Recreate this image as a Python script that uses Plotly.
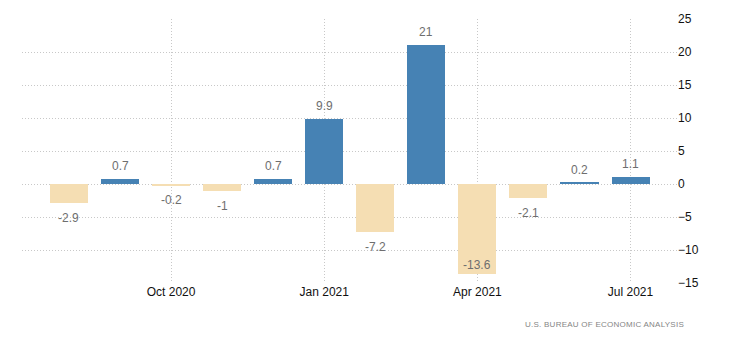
import plotly.graph_objects as go

months = ["Aug 2020", "Sep 2020", "Oct 2020", "Nov 2020", "Dec 2020", "Jan 2021",
          "Feb 2021", "Mar 2021", "Apr 2021", "May 2021", "Jun 2021", "Jul 2021"]
values = [-2.9, 0.7, -0.2, -1, 0.7, 9.9, -7.2, 21, -13.6, -2.1, 0.2, 1.1]
value_labels = ["-2.9", "0.7", "-0.2", "-1", "0.7", "9.9", "-7.2", "21", "-13.6", "-2.1", "0.2", "1.1"]
x_ticks = ["Oct 2020", "Jan 2021", "Apr 2021", "Jul 2021"]
y_ticks = [-15, -10, -5, 0, 5, 10, 15, 20, 25]
source = "U.S. BUREAU OF ECONOMIC ANALYSIS"

POS = "#4682B4"
NEG = "#F5DEB3"
FONT = "Liberation Sans, Arial, sans-serif"
LABEL_COLOR = "#6e6e6e"
Y_MIN, Y_MAX = -15, 25
GRID_DASH = "1px,2px"

colors = [POS if v >= 0 else NEG for v in values]

fig = go.Figure()
fig.add_trace(go.Bar(
    x=months, y=values, marker=dict(color=colors, line=dict(width=0)),
    width=0.745, hoverinfo="x+y",
))

annotations = []
for m, v, t in zip(months, values, value_labels):
    if v >= 0:
        annotations.append(dict(x=m, y=v, text=t, yanchor="bottom", yshift=4, showarrow=False))
    elif v - 2.5 < Y_MIN:  # no room below the bar: place inside at its end
        annotations.append(dict(x=m, y=v, text=t, yanchor="bottom", yshift=0, showarrow=False))
    else:
        annotations.append(dict(x=m, y=v, text=t, yanchor="top", yshift=-6, showarrow=False))
for a in annotations:
    a["font"] = dict(family=FONT, size=12, color=LABEL_COLOR)
    a["xanchor"] = "center"

annotations.append(dict(
    xref="paper", yref="paper", x=1.014, y=-0.159, xanchor="right", yanchor="middle",
    text='<span style="letter-spacing:0.25px">' + source + '</span>',
    showarrow=False, font=dict(family=FONT, size=8, color="#858585"),
))

fig.update_layout(
    width=730, height=340,
    margin=dict(l=22, r=53, t=19, b=57),
    paper_bgcolor="white", plot_bgcolor="white",
    showlegend=False, bargap=0,
    font=dict(family=FONT, size=12, color="#222"),
    annotations=annotations,
    xaxis=dict(
        type="category", categoryorder="array", categoryarray=months,
        range=[-0.92, 11.91], tickmode="array", tickvals=x_ticks, ticktext=x_ticks,
        showgrid=True, gridcolor="#c8c8c8", griddash=GRID_DASH, gridwidth=1,
        showline=False, ticks="", zeroline=False,
        tickfont=dict(family=FONT, size=12, color="#111"),
    ),
    yaxis=dict(
        side="right", range=[Y_MIN, Y_MAX], tickmode="array", tickvals=y_ticks,
        showgrid=True, gridcolor="#c8c8c8", griddash=GRID_DASH, gridwidth=1,
        zeroline=False, showline=False, ticks="",
        tickfont=dict(family=FONT, size=12, color="#111"),
    ),
)

fig.write_html("out.html")
